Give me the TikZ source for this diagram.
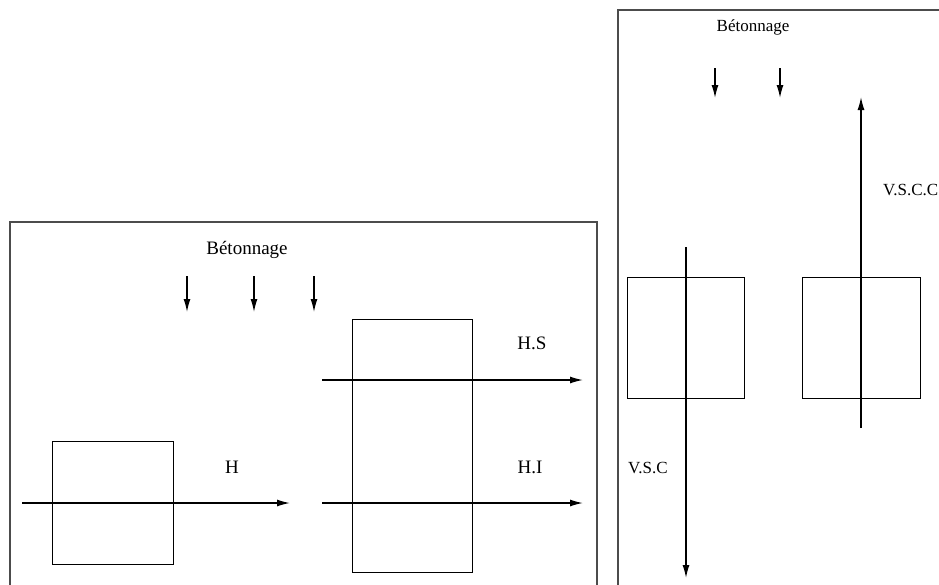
\documentclass[tikz,border=0pt]{standalone}
\usepackage{fontspec}
\setmainfont{Liberation Serif}
\usetikzlibrary{arrows.meta}
\begin{document}
\begin{tikzpicture}[x=1pt,y=-1pt,
  frame/.style={draw=black!70,line width=1.4pt},
  box/.style={draw=black,line width=1.4pt,inner sep=0pt},
  flow/.style={draw=black,line width=1.4pt,-{Latex[length=13pt,width=7pt]}},
  lblL/.style={font=\fontsize{19}{22}\selectfont,inner sep=0pt},
  lblR/.style={font=\fontsize{17}{20}\selectfont,inner sep=0pt}]
\useasboundingbox (0,0) rectangle (939,584);
% frames
\draw[frame] (10,610) -- (10,222) -- (597,222) -- (597,610);
\draw[frame] (618,610) -- (618,10) -- (960,10);
% left panel
\node[lblL] (bt1) at (247,250) {Bétonnage};
\coordinate (a1s) at (187,276); \coordinate (a1e) at (187,312);
\coordinate (a2s) at (254,276); \coordinate (a2e) at (254,312);
\coordinate (a3s) at (314,276); \coordinate (a3e) at (314,312);
\draw[flow] (a1s) -- (a1e);
\draw[flow] (a2s) -- (a2e);
\draw[flow] (a3s) -- (a3e);
\node[box,minimum width=121pt,minimum height=123pt,anchor=north west] (sq1) at (51.5,441) {};
\node[box,minimum width=120pt,minimum height=253pt,anchor=north west] (tall) at (352,319) {};
\coordinate (hs) at (22,503); \coordinate (he) at (290,503);
\draw[flow] (hs) -- (he);
\node[lblL] (lh) at (232,467) {H};
\coordinate (hss) at (322,380); \coordinate (hse) at (583,380);
\draw[flow] (hss) -- (hse);
\node[lblL] (lhs) at (532,343) {H.S};
\coordinate (his) at (322,503); \coordinate (hie) at (583,503);
\draw[flow] (his) -- (hie);
\node[lblL] (lhi) at (530,467) {H.I};
% right panel
\node[lblR] (bt2) at (753,27) {Bétonnage};
\coordinate (b1s) at (715,68); \coordinate (b1e) at (715,98);
\coordinate (b2s) at (780,68); \coordinate (b2e) at (780,98);
\draw[flow] (b1s) -- (b1e);
\draw[flow] (b2s) -- (b2e);
\node[box,minimum width=117pt,minimum height=121pt,anchor=north west] (sq2) at (627,277) {};
\node[box,minimum width=118pt,minimum height=121pt,anchor=north west] (sq3) at (802,277) {};
\coordinate (vs) at (686,247); \coordinate (ve) at (686,578);
\draw[flow] (vs) -- (ve);
\node[lblR,anchor=west] (lvsc) at (628,468) {V.S.C};
\coordinate (us) at (861,428); \coordinate (ue) at (861,97);
\draw[flow] (us) -- (ue);
\node[lblR,anchor=west] (lvscc) at (883,190) {V.S.C.C};
\end{tikzpicture}
\end{document}
